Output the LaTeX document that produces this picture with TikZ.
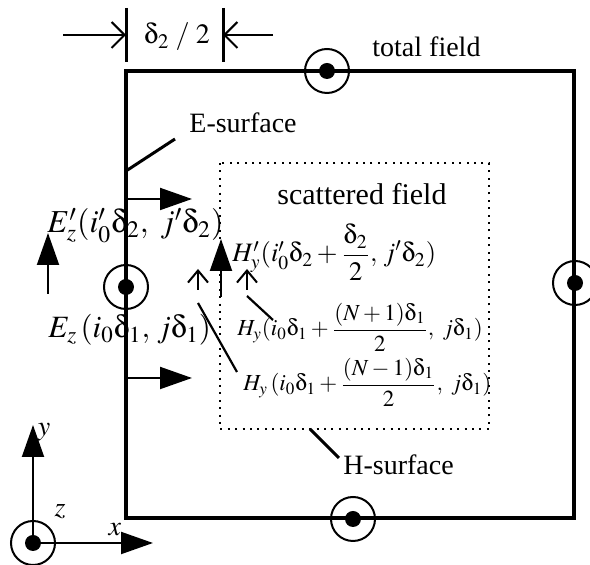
\documentclass[tikz,border=0pt]{standalone}
\usepackage{mathptmx}
\usepackage[no-math]{fontspec}
\setmainfont{Liberation Serif}
\DeclareSymbolFont{upsy}{U}{psy}{m}{n}
\DeclareMathSymbol{\ud}{\mathord}{upsy}{`d}
\usetikzlibrary{arrows.meta}
\begin{document}
\begin{tikzpicture}[x=0.5pt,y=-0.5pt,
  boxline/.style={line width=1.6pt},
  tickline/.style={line width=1.5pt},
  leader/.style={line width=1.5pt},
  thinleader/.style={line width=1.1pt},
  fillarrow/.style={line width=1pt,-{Triangle[length=16pt,width=11pt]}},
  openarrow/.style={line width=1pt,-{Straight Barb[length=6.5pt,width=13pt]}},
  smallopen/.style={line width=1pt,-{Straight Barb[length=6pt,width=10pt]}},
  ring/.style={circle,draw,line width=1pt,minimum size=22pt,inner sep=0pt,
    path picture={\fill (path picture bounding box.center) circle[radius=4pt];}},
  lbl/.style={inner sep=0pt,font=\fontsize{14}{16}\selectfont},
  biglbl/.style={inner sep=0pt,font=\fontsize{16}{18}\selectfont},
  ezlbl/.style={inner sep=0pt,font=\fontsize{15.5}{18}\selectfont},
  sflbl/.style={inner sep=0pt,font=\fontsize{15}{17}\selectfont},
  midlbl/.style={inner sep=0pt,font=\fontsize{13.3}{16}\selectfont},
  smalllbl/.style={inner sep=0pt,font=\fontsize{11.5}{14}\selectfont},
  dotbox/.style={line width=1pt,dash pattern=on 1pt off 2.7pt}
]
\useasboundingbox (0,0) rectangle (590,565);

% total field box
\draw[boxline] (126,71) rectangle (574,518);
% H-surface dotted box
\draw[dotbox] (220,163) rectangle (489,429);

% dimension delta2/2
\coordinate (t1a) at (126,8); \coordinate (t1b) at (126,62);
\coordinate (t2a) at (223,8); \coordinate (t2b) at (223,62);
\draw[tickline] (t1a) -- (t1b);
\draw[tickline] (t2a) -- (t2b);
\coordinate (da) at (63,35); \coordinate (dA) at (126,35);
\coordinate (db) at (273,35); \coordinate (dB) at (223,35);
\draw[openarrow] (da) -- (dA);
\draw[openarrow] (db) -- (dB);
\node[lbl] (dim) at (177,37) {$\ud_2\;/\;2$};

% labels
\node[lbl,anchor=base west] (tf) at (372,57) {total field};
\node[lbl,anchor=base west] (es) at (189,133) {E-surface};
\node[sflbl,anchor=base west] (sf) at (277,205) {scattered field};
\node[lbl,anchor=base west] (hs) at (343,475) {H-surface};

% field symbols
\node[ring] (ctop) at (327,71) {};
\node[ring] (cright) at (575,283) {};
\node[ring] (cbot) at (353,519) {};
\node[ring] (cleft) at (126,287) {};

% leaders
\coordinate (esA) at (126,171); \coordinate (esB) at (175,139);
\draw[leader] (esA) -- (esB);
\coordinate (hsA) at (310,429); \coordinate (hsB) at (339,458);
\draw[leader] (hsA) -- (hsB);

% horizontal arrows from E-surface
\coordinate (h1a) at (126,199); \coordinate (h1b) at (192,199);
\draw[fillarrow] (h1a) -- (h1b);
\coordinate (h2a) at (126,378); \coordinate (h2b) at (192,378);
\draw[fillarrow] (h2a) -- (h2b);

% vertical arrows
\coordinate (v1a) at (48,294); \coordinate (v1b) at (48,233);
\draw[fillarrow] (v1a) -- (v1b);
\coordinate (v2a) at (221,297); \coordinate (v2b) at (221,239);
\draw[fillarrow] (v2a) -- (v2b);
\coordinate (s1a) at (198,290); \coordinate (s1b) at (198,269);
\draw[smallopen] (s1a) -- (s1b);
\coordinate (s2a) at (247,290); \coordinate (s2b) at (247,269);
\draw[smallopen] (s2a) -- (s2b);

% field labels
\node[biglbl,anchor=base west] (ep) at (47,233) {$E'_z(i'_0\ud_2,\ j'\ud_2)$};
\node[ezlbl,anchor=base west] (ez) at (48,338) {$E_z\,(i_0\ud_1,\,j\ud_1)$};
\node[midlbl,anchor=base west] (hp) at (232,262) {$H'_y(i'_0\ud_2+\displaystyle\frac{\ud_2}{2},\,j'\ud_2)$};
\node[smalllbl,anchor=base west] (hplus) at (237,336) {$H_y(i_0\ud_1+\displaystyle\frac{(N+1)\ud_1}{2},\ j\ud_1)$};
\node[smalllbl,anchor=base west] (hminus) at (243,391) {$H_y\,(i_0\ud_1+\displaystyle\frac{(N-1)\ud_1}{2},\ j\ud_1)$};

\coordinate (l1a) at (247,296); \coordinate (l1b) at (273,320);
\draw[thinleader] (l1a) -- (l1b);
\coordinate (l2a) at (198,303); \coordinate (l2b) at (237,372);
\draw[thinleader] (l2a) -- (l2b);

% axes
\node[ring] (o) at (33,543) {};
\coordinate (yt) at (33,425); \coordinate (xt) at (153,543);
\draw[fillarrow] (o.center) -- (yt);
\draw[fillarrow] (o.center) -- (xt);
\node[lbl] (ylab) at (44,432) {$y$};
\node[lbl] (zlab) at (60,512) {$z$};
\node[lbl] (xlab) at (115,530) {$x$};
\end{tikzpicture}
\end{document}
